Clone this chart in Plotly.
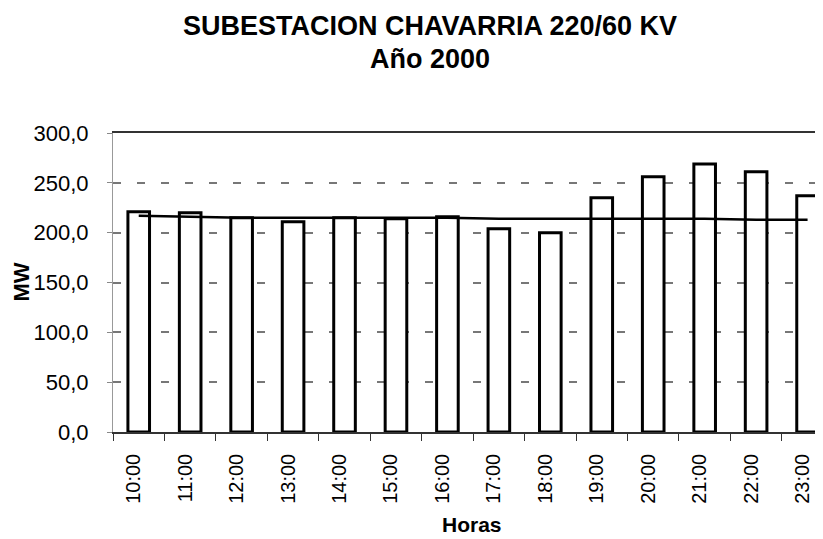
import plotly.graph_objects as go

horas = ["10:00", "11:00", "12:00", "13:00", "14:00", "15:00", "16:00",
         "17:00", "18:00", "19:00", "20:00", "21:00", "22:00", "23:00"]
mw = [221, 220, 215, 211, 215, 214, 216, 204, 200, 235, 256, 269, 261, 237]
referencia = [217, 216, 215, 215, 215, 215, 215, 214, 214, 214, 214, 214, 213, 213]
y_ticks = [0, 50, 100, 150, 200, 250, 300]

FONT = "Liberation Sans, Arial, sans-serif"
# the page body has an 8px margin, so the figure is laid out 8px smaller
OFF = 8
W, H = 823 - OFF, 539 - OFF
L, T = 113 - OFF, 133 - OFF
B = H - (432 - OFF)
PW, PH = W - L, H - T - B


def px_x(x):
    return (x - OFF - L) / PW


def px_y(y):
    return 1 - (y - OFF - T) / PH


fig = go.Figure()
fig.add_trace(go.Bar(
    x=horas, y=mw, width=0.42,
    marker=dict(color="white", line=dict(color="black", width=3)),
    showlegend=False,
))
fig.add_trace(go.Scatter(
    x=horas, y=referencia, mode="lines",
    line=dict(color="black", width=2.5),
    showlegend=False,
))

fig.update_layout(
    width=W, height=H,
    margin=dict(l=L, r=0, t=T, b=B),
    paper_bgcolor="white", plot_bgcolor="white",
    separators=",.",
    font=dict(family=FONT, color="black"),
    bargap=0.6,
    annotations=[
        dict(text="<b>SUBESTACION CHAVARRIA 220/60 KV</b>",
             font=dict(size=27, family=FONT, color="black"),
             xref="paper", yref="paper", x=px_x(430), y=px_y(26),
             xanchor="center", yanchor="middle", showarrow=False),
        dict(text="<b>Año 2000</b>",
             font=dict(size=27, family=FONT, color="black"),
             xref="paper", yref="paper", x=px_x(430), y=px_y(59),
             xanchor="center", yanchor="middle", showarrow=False),
        dict(text="<b>MW</b>", textangle=-90,
             font=dict(size=22, family=FONT, color="black"),
             xref="paper", yref="paper", x=px_x(21), y=0.5,
             xanchor="center", yanchor="middle", showarrow=False),
        dict(text="<b>Horas</b>",
             font=dict(size=21, family=FONT, color="black"),
             xref="paper", yref="paper", x=px_x(472), y=px_y(524),
             xanchor="center", yanchor="middle", showarrow=False),
    ],
)

fig.update_xaxes(
    type="category",
    range=[-0.5, 13.3],
    automargin=False,
    showline=True, linecolor="#333", linewidth=1.5, mirror=True,
    ticks="outside", tickson="boundaries", ticklen=7, tickcolor="#333",
    tickangle=-90, tickfont=dict(size=20, family=FONT, color="black"),
    ticklabelstandoff=12, ticklabelshift=-5,
    showgrid=False,
)
fig.update_yaxes(
    range=[0, 300],
    automargin=False,
    tickvals=y_ticks, tickformat=".1f",
    tickfont=dict(size=22, family=FONT, color="black"),
    ticks="outside", ticklen=5, tickcolor="#888",
    ticklabelstandoff=14,
    showline=True, linecolor="#999", linewidth=1,
    showgrid=True, gridcolor="#777", gridwidth=1.5, griddash="8px,16px",
    zeroline=False,
)

fig.write_html("out.html")
